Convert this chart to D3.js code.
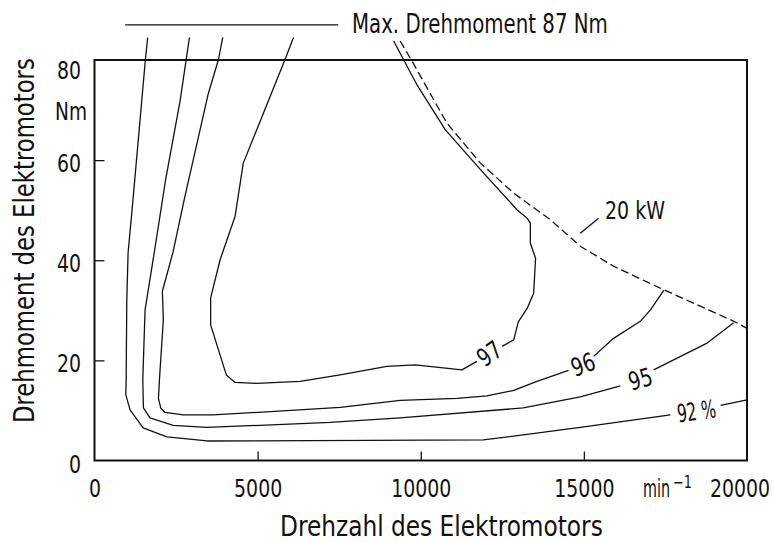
<!DOCTYPE html>
<html>
<head>
<meta charset="utf-8">
<script src="https://cdn.jsdelivr.net/npm/d3@7"></script>
<style>
  body { margin: 0; background: #fff; }
  svg text { font-family: "Liberation Sans Narrow", "DejaVu Sans Condensed", "Arial Narrow", sans-serif; fill: #111; }
</style>
</head>
<body>
<svg id="chart" width="774" height="542"></svg>
<script>
// DATA  [rpm, Nm]
const rpmTicks = [0, 5000, 10000, 15000, 20000];
const nmTicks = [0, 20, 40, 60, 80];
const maxTorque = 87;

const eff97a = [[6100, 84.5], [5840, 80.1], [4560, 59.4], [4310, 48.8], [3850, 40.1], [3560, 32.5], [3560, 27.1], [4040, 17.1], [4310, 15.6], [4980, 15.4], [6300, 15.8], [7530, 17.1], [8960, 18.8], [9830, 19.1], [11260, 18.1], [11720, 19.8]];
const eff97b = [[12490, 22.8], [12850, 24.1], [12990, 27.7], [13270, 30.5], [13460, 33.4], [13520, 40.4], [13360, 43.4], [13360, 47.4], [13260, 48.4], [12950, 50.1], [11830, 58.1], [10750, 66.1], [9880, 75.1], [9470, 80.1], [9170, 83.8]];
const eff96a = [[3930, 84.5], [3800, 80.1], [3480, 73.1], [2750, 52.1], [2410, 41.7], [2080, 33.8], [2110, 28.1], [1990, 16.1], [1960, 12.4], [2030, 10.5], [2160, 9.6], [2720, 9.1], [3640, 9.1], [7530, 10.6], [9370, 12.0], [11110, 12.4], [12030, 12.9], [12850, 14.0], [13560, 15.8], [14530, 18.0]];
const eff96b = [[15300, 20.8], [15910, 24.4], [16730, 27.8], [17040, 30.1], [17450, 34.0]];
const eff95a = [[2910, 84.5], [2620, 71.7], [2180, 56.1], [1860, 42.7], [1550, 30.1], [1480, 16.1], [1500, 10.5], [1700, 8.5], [2410, 7.0], [3440, 6.6], [7220, 7.6], [9370, 8.5], [13140, 10.5], [14890, 12.7], [16120, 14.9]];
const eff95b = [[17140, 18.1], [18790, 23.5], [19590, 27.5]];
const eff92a = [[1630, 84.5], [1560, 80.1], [1180, 52.1], [1030, 41.5], [990, 32.1], [970, 16.1], [960, 13.1], [1090, 10.1], [1490, 6.5], [2220, 4.7], [3450, 3.9], [11920, 4.1], [14890, 6.6], [17650, 9.1]];
const eff92b = [[19190, 11.0], [20000, 12.1]];
const power20kW = [[9370, 83.8], [9730, 79.8], [10800, 67.4], [11830, 59.4], [12850, 53.4], [13970, 48.1], [14890, 42.8], [15910, 38.8], [17450, 34.1], [19600, 27.8], [20000, 26.4]];

const contourLabels = [
  { text: "97", rpm: 12100, nm: 21.4, angle: -35 },
  { text: "96", rpm: 14970, nm: 19.2, angle: -20 },
  { text: "95", rpm: 16730, nm: 16.3, angle: -16 },
  { text: "92 %", rpm: 18450, nm: 9.9, angle: -8 },
];

const svg = d3.select("#chart");
const x = d3.scaleLinear().domain([0, 20000]).range([94.5, 747]);
const y = d3.scaleLinear().domain([0, 80]).range([460.5, 60]);

const line = d3.line().x((d) => x(d[0])).y((d) => y(d[1]));

// narrow drafting lettering: squeeze glyphs horizontally with a transform
function label(px, py, str, size, width, opts = {}) {
  const t = svg.append("text")
    .attr("font-size", size)
    .attr("text-anchor", opts.anchor || "start")
    .attr("dy", opts.dy || null)
    .text(str);
  const k = width ? width / t.node().getComputedTextLength() : 0.84;
  t.attr("transform", `translate(${px},${py}) rotate(${opts.angle || 0}) scale(${k},1)`);
  return t;
}

// contour lines
const solid = [eff97a, eff97b, eff96a, eff96b, eff95a, eff95b, eff92a, eff92b];
svg.append("g")
  .selectAll("path")
  .data(solid)
  .join("path")
  .attr("d", line)
  .attr("fill", "none")
  .attr("stroke", "#111")
  .attr("stroke-width", 1.3)
  .attr("stroke-linejoin", "round");

svg.append("path")
  .attr("d", line(power20kW))
  .attr("fill", "none")
  .attr("stroke", "#111")
  .attr("stroke-width", 1.3)
  .attr("stroke-dasharray", "8,4");

// frame
svg.append("rect")
  .attr("x", x(0))
  .attr("y", y(80))
  .attr("width", x(20000) - x(0))
  .attr("height", y(0) - y(80))
  .attr("fill", "none")
  .attr("stroke", "#111")
  .attr("stroke-width", 2);

// axes
const xAxis = svg.append("g")
  .attr("transform", `translate(0,${y(0)})`)
  .call(d3.axisBottom(x).tickValues(rpmTicks).tickSize(-9).tickPadding(19).tickFormat(d3.format("d")));
const yAxis = svg.append("g")
  .attr("transform", `translate(${x(0)},0)`)
  .call(d3.axisLeft(y).tickValues(nmTicks).tickSize(-10).tickPadding(13.5));

[xAxis, yAxis].forEach((a) => {
  a.select(".domain").remove();
  a.attr("font-family", null);
  a.selectAll("line").attr("stroke", "#111").attr("stroke-width", 1.3);
  a.selectAll("text")
    .attr("font-size", 25)
    .attr("fill", "#111")
    .attr("x", function () { return (+d3.select(this).attr("x") || 0) / 0.84; })
    .attr("transform", "scale(0.84,1)");
});
xAxis.selectAll(".tick").filter((d) => d === 0 || d === 20000).select("line").remove();
xAxis.selectAll(".tick").filter((d) => d === 20000).select("text").attr("x", -9);
yAxis.selectAll(".tick").filter((d) => d === 0 || d === 80).select("line").remove();
yAxis.selectAll("text").attr("dy", "0.46em");
yAxis.selectAll(".tick").filter((d) => d === 80).select("text").attr("dy", "0.72em");

// units
label(87, 120, "Nm", 25, 32, { anchor: "end" });
label(643, 497, "min", 25, 27);
label(673, 488, "\u22121", 17, 19);

// titles
label(280, 536, "Drehzahl des Elektromotors", 28, 323);
label(33.5, 423, "Drehmoment des Elektromotors", 28, 365, { angle: -90 });

// max torque annotation
svg.append("line")
  .attr("x1", x(940)).attr("x2", x(7470))
  .attr("y1", y(maxTorque)).attr("y2", y(maxTorque))
  .attr("stroke", "#111")
  .attr("stroke-width", 1.3);
label(352, 32.5, "Max. Drehmoment  87 Nm", 26, 256);

// 20 kW annotation
svg.append("line")
  .attr("x1", x(14890)).attr("y1", y(45.4))
  .attr("x2", x(15450)).attr("y2", y(48.4))
  .attr("stroke", "#111")
  .attr("stroke-width", 1.3);
label(605, 218.5, "20 kW", 25, 60);

// contour labels
contourLabels.forEach((d) => {
  label(x(d.rpm), y(d.nm), d.text, 25, d.text.length > 2 ? 39 : null,
    { anchor: "middle", dy: "0.36em", angle: d.angle });
});
</script>
</body>
</html>
